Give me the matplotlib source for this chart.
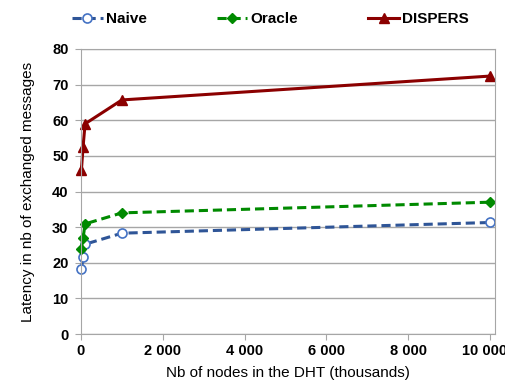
import matplotlib.pyplot as plt
import matplotlib.transforms as mtransforms
from matplotlib.ticker import FuncFormatter

plt.rcParams['font.family'] = ['Liberation Sans', 'DejaVu Sans']

# network sizes (thousands of nodes)
nodes = [10, 50, 100, 1000, 10000]
naive = [18.2, 21.5, 25.2, 28.3, 31.3]
oracle = [23.9, 26.9, 30.9, 34.0, 37.0]
dispers = [46.0, 52.5, 59.0, 65.7, 72.4]

xticks = [0, 2000, 4000, 6000, 8000, 10000]
yticks = [0, 10, 20, 30, 40, 50, 60, 70, 80]


def main():
    fig = plt.figure(figsize=(5.06, 3.88), dpi=100)
    ax = fig.add_axes([81 / 506, 1 - 334 / 388, (495 - 81) / 506, (334 - 49) / 388])

    ax.plot(nodes, naive, '--', color='#2F5597', lw=2.2, dashes=(3, 1.6), clip_on=False,
            marker='o', ms=6.5, mfc='white', mec='#4472C4', mew=1.2, label='Naive')
    ax.plot(nodes, oracle, '--', color='#008A00', lw=2.2, dashes=(3, 1.6), clip_on=False,
            marker='D', ms=5, mfc='#008A00', mec='#008A00', label='Oracle')
    ax.plot(nodes, dispers, '-', color='#8B0000', lw=2.2, clip_on=False,
            marker='^', ms=7, mfc='#8B0000', mec='#8B0000', label='DISPERS')

    ax.set_xlim(0, 10120)
    ax.set_ylim(0, 80)
    ax.set_xticks(xticks)
    ax.set_yticks(yticks)
    ax.xaxis.set_major_formatter(FuncFormatter(lambda v, p: f"{int(v):,}".replace(',', ' ')))
    ax.tick_params(axis='both', labelsize=10.5, color='#A6A6A6', labelcolor='black')
    ax.tick_params(axis='y', length=4, pad=5)
    ax.tick_params(axis='x', length=4, pad=3)
    fig.canvas.draw()
    for lab in ax.get_xticklabels() + ax.get_yticklabels():
        lab.set_fontweight('bold')
    # last x label sits a bit left so it stays inside the figure
    last = ax.get_xticklabels()[-1]
    last.set_transform(last.get_transform() +
                       mtransforms.ScaledTranslation(-6 / 100, 0, fig.dpi_scale_trans))

    ax.grid(axis='y', color='#A6A6A6', lw=1)
    ax.set_axisbelow(True)
    for s in ax.spines.values():
        s.set_color('#A6A6A6')

    ax.set_xlabel('Nb of nodes in the DHT (thousands)', fontsize=11, labelpad=6)
    ax.set_ylabel('Latency in nb of exchanged messages', fontsize=11, labelpad=12)

    fig.legend(loc='center left', bbox_to_anchor=(72 / 506, 1 - 19 / 388), ncol=3, frameon=False,
               prop={'weight': 'bold', 'size': 11}, columnspacing=4.6,
               handlelength=2.0, handletextpad=0.2, borderaxespad=0, borderpad=0)

    fig.savefig('out.png', dpi=100)


if __name__ == "__main__":
    main()
